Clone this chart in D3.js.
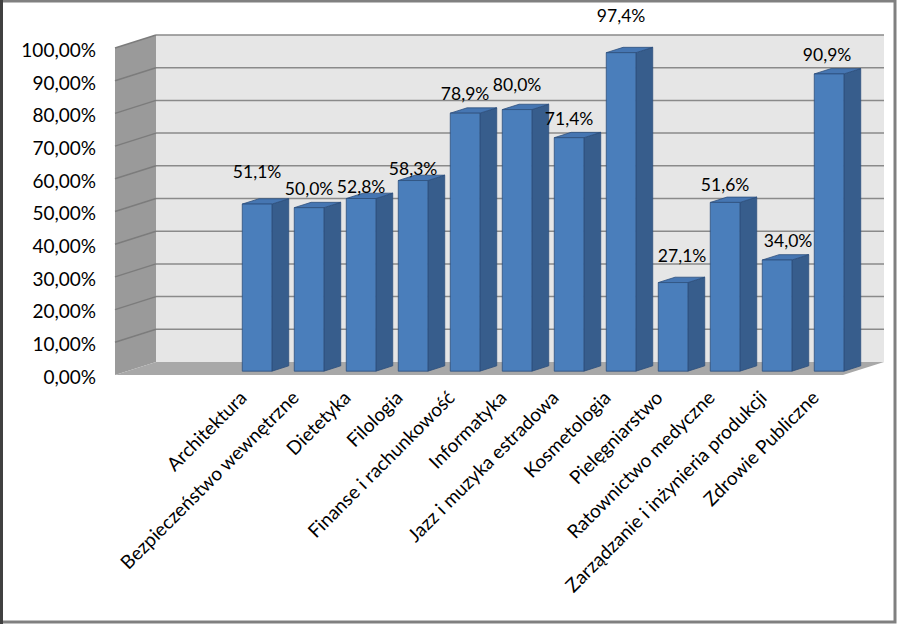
<!DOCTYPE html>
<html>
<head>
<meta charset="utf-8">
<script src="https://cdn.jsdelivr.net/npm/d3@7/dist/d3.min.js"></script>
<style>
  html, body { margin: 0; padding: 0; background: #fff; }
  svg { display: block; }
  text { font-family: Lato, "Open Sans", sans-serif; fill: #000; }
</style>
</head>
<body>
<svg id="chart" width="897" height="624"></svg>
<script>
// ---- data ----
const categories = ["", "", "Architektura", "Bezpieczeństwo wewnętrzne", "Dietetyka", "Filologia",
  "Finanse i rachunkowość", "Informatyka", "Jazz i muzyka estradowa", "Kosmetologia",
  "Pielęgniarstwo", "Ratownictwo medyczne", "Zarządzanie i inżynieria produkcji", "Zdrowie Publiczne"];
const values = [null, null, 0.511, 0.500, 0.528, 0.583, 0.789, 0.800, 0.714, 0.974, 0.271, 0.516, 0.340, 0.909];
const yTicks = [0, 0.1, 0.2, 0.3, 0.4, 0.5, 0.6, 0.7, 0.8, 0.9, 1.0];
// manual label nudges (layout only), [dx, dy] in px
const labelNudges = [[0,0],[0,0],[0,-13],[0,0],[0,7],[0,7],[0,0],[0,-6],[0,0],[0,-18],[9,-8],[0,1],[11,0],[-2,0]];

// ---- layout ----
const svg = d3.select("#chart");
const W = 897, H = 624;
const back = { x0: 156, x1: 884, yTop: 35, yBot: 362 };
const depth = { dx: -41, dy: 13 };   // back plane -> front edge

const pl = d3.formatLocale({ decimal: ",", thousands: " ", grouping: [3], currency: ["", ""] });
const fmtTick = pl.format(".2%");
const fmtLabel = pl.format(".1%");

const x = d3.scaleBand().domain(d3.range(categories.length))
  .range([back.x0, back.x1]).paddingInner(0.43).paddingOuter(0.215);
const y = d3.scaleLinear().domain([0, 1]).range([back.yBot, back.yTop]);

const at = (px, py, f) => [px + depth.dx * f, py + depth.dy * f];
const poly = pts => pts.map(p => p.join(",")).join(" ");

// walls
const g = svg.append("g");
g.append("polygon")
  .attr("points", poly([at(back.x0, y(1), 1), [back.x0, y(1)], [back.x0, y(0)], at(back.x0, y(0), 1)]))
  .attr("fill", "#9a9a9a");
g.append("rect").attr("x", back.x0).attr("y", y(1)).attr("width", back.x1 - back.x0)
  .attr("height", y(0) - y(1)).attr("fill", "#e6e6e6");
g.append("polygon")
  .attr("points", poly([[back.x0, y(0)], [back.x1, y(0)], at(back.x1, y(0), 1), at(back.x0, y(0), 1)]))
  .attr("fill", "#a8a8a8");

// gridlines
yTicks.forEach(t => {
  if (t === 0) return;
  g.append("line").attr("x1", back.x0).attr("x2", back.x1).attr("y1", y(t)).attr("y2", y(t))
    .attr("stroke", "#8a8a8a").attr("stroke-width", 1.5);
  const f = at(back.x0, y(t), 1);
  g.append("line").attr("x1", back.x0).attr("y1", y(t)).attr("x2", f[0]).attr("y2", f[1])
    .attr("stroke", "#7c7c7c").attr("stroke-width", 1.5);
});

// y tick labels
yTicks.forEach(t => {
  const f = at(back.x0, y(t), 1);
  svg.append("text").attr("x", 96).attr("y", f[1] + 2).attr("dy", "0.36em")
    .attr("text-anchor", "end").style("font-size", "19px").text(fmtTick(t));
});

// bars
const bw = x.bandwidth();
const fFront = 0.705, fBack = 0.295;
const bars = svg.append("g");
values.forEach((v, i) => {
  if (v == null) return;
  const xl = x(i), xr = x(i) + bw;
  const FL_t = at(xl, y(v), fFront), FR_t = at(xr, y(v), fFront);
  const BL_t = at(xl, y(v), fBack), BR_t = at(xr, y(v), fBack);
  const FR_b = at(xr, y(0), fFront), BR_b = at(xr, y(0), fBack);
  const FL_b = at(xl, y(0), fFront);
  bars.append("polygon").attr("points", poly([FR_t, BR_t, BR_b, FR_b]))
    .attr("fill", "#375d8c").attr("stroke", "#2d4f7c").attr("stroke-width", 0.8);
  bars.append("polygon").attr("points", poly([FL_t, FR_t, BR_t, BL_t]))
    .attr("fill", "#4676b2").attr("stroke", "#2d4f7c").attr("stroke-width", 0.8);
  bars.append("polygon").attr("points", poly([FL_t, FR_t, FR_b, FL_b]))
    .attr("fill", "#4a7ebb").attr("stroke", "#2d4f7c").attr("stroke-width", 0.8);
  const cx = (FL_t[0] + FR_t[0]) / 2;
  const nd = labelNudges[i];
  svg.append("text").attr("x", cx + nd[0]).attr("y", y(v) - 10 + nd[1]).attr("dy", "0.36em")
    .attr("text-anchor", "middle").style("font-size", "17.5px").text(fmtLabel(v));
});

// x labels
categories.forEach((c, i) => {
  if (!c) return;
  const p = at(x(i) + bw / 2, y(0), 1);
  const px = p[0] + 3, py = p[1] + 24;
  svg.append("text").attr("transform", `translate(${px},${py}) rotate(-45)`)
    .attr("text-anchor", "end").style("font-size", "19px").text(c);
});

// frame
svg.append("rect").attr("x", 1.5).attr("y", 1).attr("width", W - 3.5).attr("height", H - 3)
  .attr("fill", "none").attr("stroke", "#808080").attr("stroke-width", 3);
svg.append("line").attr("x1", 1.5).attr("x2", 1.5).attr("y1", 0).attr("y2", H)
  .attr("stroke", "#404040").attr("stroke-width", 3);
</script>
</body>
</html>
